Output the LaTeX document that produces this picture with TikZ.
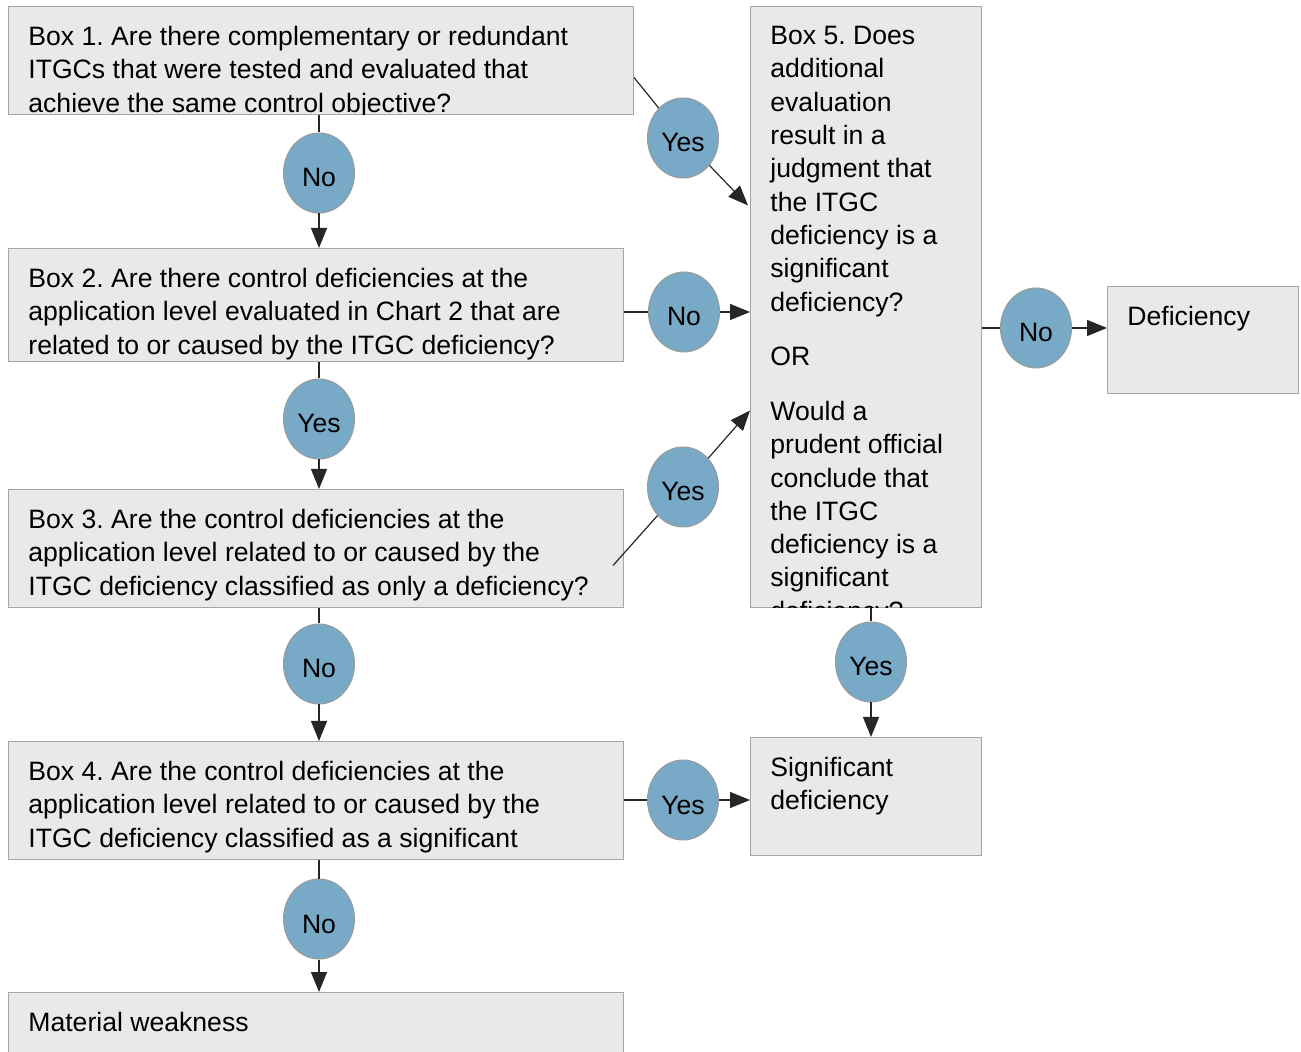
\documentclass[tikz,border=0pt]{standalone}
\usepackage{fontspec}
\setmainfont{Liberation Sans}
\usetikzlibrary{shapes.geometric}
\usetikzlibrary{arrows.meta}
\definecolor{boxgray}{HTML}{E8E9EB}
\definecolor{boxline}{HTML}{A6A6A6}
\definecolor{answerblue}{HTML}{78AAC8}
\definecolor{answerline}{HTML}{9A9A9A}
\frenchspacing

\begin{document}
\begin{tikzpicture}[x=0.5pt, y=-0.5pt,
    box/.style={draw=boxline, fill=boxgray, line width=0.5pt, anchor=north west, inner sep=0pt},
    boxtext/.style={anchor=north west, align=left, inner sep=0pt, font=\fontsize{13.3}{16.65}\selectfont},
    answer/.style={ellipse, draw=answerline, fill=answerblue, line width=0.5pt,
        minimum width=35.5pt, minimum height=40pt, inner sep=0pt, text height=14pt, text depth=0pt,
        font=\fontsize{13.3}{16}\selectfont},
    link/.style={line width=0.6pt, black!85},
    arrow/.style={link, -{Triangle[length=10pt, width=8pt]}}]

    \useasboundingbox (0,0) rectangle (1301,1052);

    % Question boxes on the left
    \node[box, minimum width=312.5pt, minimum height=54pt] (box1) at (8,6) {};
    \node[box, minimum width=307.5pt, minimum height=56.5pt] (box2) at (8,248) {};
    \node[box, minimum width=307.5pt, minimum height=59pt] (box3) at (8,489) {};
    \node[box, minimum width=307.5pt, minimum height=59pt] (box4) at (8,741) {};
    \node[box, minimum width=307.5pt, minimum height=35pt] (weakness) at (8,992) {};

    % Box 5 and the outcomes on the right
    \node[box, minimum width=115.5pt, minimum height=300.5pt] (box5) at (750,6) {};
    \node[box, minimum width=95.5pt, minimum height=53.5pt] (deficiency) at (1107,286) {};
    \node[box, minimum width=115.5pt, minimum height=59pt] (sigdef) at (750,737) {};

    % Box texts (cut off at the box edge)
    \begin{scope}
        \clip (box1.north west) rectangle (box1.south east);
        \node[boxtext] (box1text) at (28,26) {Box 1. Are there complementary or redundant\\
            ITGCs that were tested and evaluated that\\
            achieve the same control objective?};
    \end{scope}
    \node[boxtext] (box2text) at (28,268) {Box 2. Are there control deficiencies at the\\
        application level evaluated in Chart 2 that are\\
        related to or caused by the ITGC deficiency?};
    \node[boxtext] (box3text) at (28,509) {Box 3. Are the control deficiencies at the\\
        application level related to or caused by the\\
        ITGC deficiency classified as only a deficiency?};
    \node[boxtext] (box4text) at (28,761) {Box 4. Are the control deficiencies at the\\
        application level related to or caused by the\\
        ITGC deficiency classified as a significant};
    \node[boxtext] (weaknesstext) at (28,1012) {Material weakness};
    \begin{scope}
        \clip (box5.north west) rectangle (box5.south east);
        \node[boxtext] (box5text) at (770,26) {Box 5. Does\\ additional\\ evaluation\\ result in a\\
            judgment that\\ the ITGC\\ deficiency is a\\ significant\\ deficiency?\\[10.7pt]
            OR\\[10.7pt]
            Would a\\ prudent official\\ conclude that\\ the ITGC\\ deficiency is a\\
            significant\\ deficiency?};
    \end{scope}
    \node[boxtext] (deficiencytext) at (1127,306) {Deficiency};
    \node[boxtext] (sigdeftext) at (770,757) {Significant\\ deficiency};

    % Yes / No answers
    \node[answer] (no1) at (319,173) {No};
    \node[answer] (yes1) at (683,138) {Yes};
    \node[answer] (no2) at (684,312) {No};
    \node[answer] (yes2) at (319,419) {Yes};
    \node[answer] (yes3) at (683,487) {Yes};
    \node[answer] (no3) at (319,664) {No};
    \node[answer] (yes4) at (683,800) {Yes};
    \node[answer] (no4) at (319,919) {No};
    \node[answer] (no5) at (1036,328) {No};
    \node[answer] (yes5) at (871,662) {Yes};

    % Connectors
    \draw[link] (no1 |- box1.south) -- (no1);
    \draw[arrow] (no1) -- (no1 |- box2.north);
    \draw[link] ([yshift=-8.5pt]box1.east) -- (yes1);
    \draw[arrow] (yes1) -- ([xshift=-1pt, yshift=50.75pt]box5.west);
    \draw[link] (no2 -| box2.east) -- (no2);
    \draw[arrow] (no2) -- (no2 -| box5.west);
    \draw[link] (yes2 |- box2.south) -- (yes2);
    \draw[arrow] (yes2) -- (yes2 |- box3.north);
    \draw[link] ([xshift=-5.5pt, yshift=-8.5pt]box3.east) -- (yes3);
    \draw[arrow] (yes3) -- ([yshift=-51.75pt]box5.west);
    \draw[link] (no3 |- box3.south) -- (no3);
    \draw[arrow] (no3) -- (no3 |- box4.north);
    \draw[link] (yes4 -| box4.east) -- (yes4);
    \draw[arrow] (yes4) -- (yes4 -| sigdef.west);
    \draw[link] (no4 |- box4.south) -- (no4);
    \draw[arrow] (no4) -- (no4 |- weakness.north);
    \draw[link] (no5 -| box5.east) -- (no5);
    \draw[arrow] (no5) -- (no5 -| deficiency.west);
    \draw[link] (yes5 |- box5.south) -- (yes5);
    \draw[arrow] (yes5) -- (yes5 |- sigdef.north);

\end{tikzpicture}
\end{document}
